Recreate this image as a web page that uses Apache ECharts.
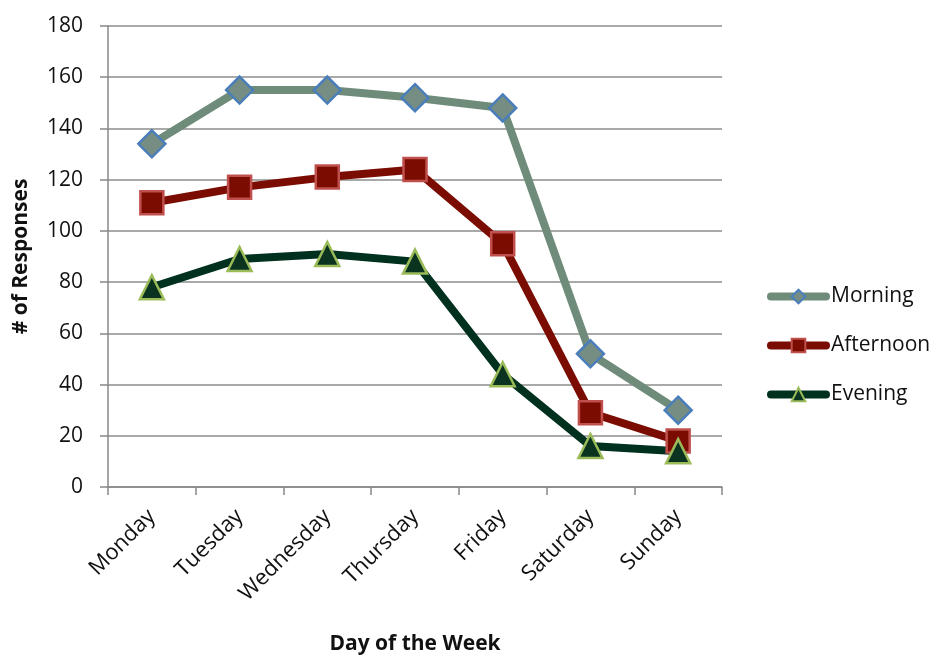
<!DOCTYPE html>
<html lang="en">
<head>
    <meta charset="UTF-8">
    <title># of Responses by Day of the Week</title>
    <script src="https://cdn.jsdelivr.net/npm/echarts@6/dist/echarts.min.js"></script>
    <style>
        html, body { margin: 0; padding: 0; background: #fff; }
        #chart { width: 936px; height: 657px; }
    </style>
</head>
<body>
    <div id="chart"></div>
    <script>
        var days = ['Monday', 'Tuesday', 'Wednesday', 'Thursday', 'Friday', 'Saturday', 'Sunday'];
        var morning = [134, 155, 155, 152, 148, 52, 30];
        var afternoon = [111, 117, 121, 124, 95, 29, 18];
        var evening = [78, 89, 91, 88, 44, 16, 14];

        var font = '"Open Sans", "Noto Sans", sans-serif';
        var chart = echarts.init(document.getElementById('chart'));

        function lineSeries(name, data, lineColor, symbol, size, fill, border) {
            return {
                name: name,
                type: 'line',
                data: data,
                symbol: symbol,
                symbolSize: size,
                showAllSymbol: true,
                lineStyle: { color: lineColor, width: 8 },
                itemStyle: { color: fill, borderColor: border, borderWidth: 2.5 },
                emphasis: { disabled: true },
                z: 2
            };
        }

        chart.setOption({
            animation: false,
            textStyle: { fontFamily: font },
            grid: { left: 108, right: 214, top: 26, bottom: 170, outerBoundsMode: 'none', containLabel: false },
            legend: {
                orient: 'vertical',
                left: 762,
                top: 281,
                itemWidth: 55,
                itemHeight: 17,
                itemGap: 28,
                lineStyle: { width: 8, cap: 'round' },
                textStyle: { fontSize: 21, color: '#111', fontFamily: font },
                data: ['Morning', 'Afternoon', 'Evening']
            },
            xAxis: {
                type: 'category',
                data: days,
                name: 'Day of the Week',
                nameLocation: 'middle',
                nameGap: 147,
                nameTextStyle: { fontSize: 21, fontWeight: 'bold', color: '#111' },
                axisLine: { lineStyle: { color: '#888', width: 1.5 } },
                axisTick: { show: true, length: 8, lineStyle: { color: '#888', width: 1.5 } },
                axisLabel: { rotate: 45, fontSize: 22, color: '#111', margin: 26 }
            },
            yAxis: {
                type: 'value',
                min: 0,
                max: 180,
                interval: 20,
                name: '# of Responses',
                nameLocation: 'middle',
                nameGap: 76,
                nameTextStyle: { fontSize: 21, fontWeight: 'bold', color: '#111' },
                axisLine: { show: true, lineStyle: { color: '#888', width: 1.5 } },
                axisTick: { show: true, length: 8, lineStyle: { color: '#888', width: 1.5 } },
                axisLabel: { fontSize: 21, color: '#111', margin: 25 },
                splitLine: { lineStyle: { color: '#8c8c8c', width: 1.5 } }
            },
            series: [
                lineSeries('Morning', morning, '#6f8c7a', 'diamond', 27, '#768d83', '#4a7ebb'),
                lineSeries('Afternoon', afternoon, '#7b0c02', 'rect', 23, '#7b0c02', '#c0504d'),
                lineSeries('Evening', evening, '#00301e', 'triangle', 24, '#0a3320', '#9bbb59')
            ]
        });
    </script>
</body>
</html>
